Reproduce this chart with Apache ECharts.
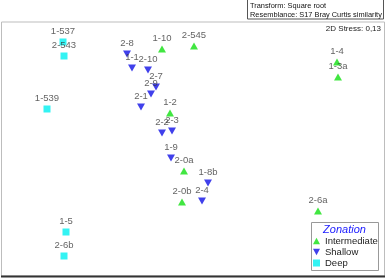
<!DOCTYPE html>
<html>
<head>
<meta charset="utf-8">
<script src="https://cdn.jsdelivr.net/npm/echarts@6/dist/echarts.min.js"></script>
<style>
html, body { margin: 0; padding: 0; background: #fff; }
#chart { width: 386px; height: 278px; }
</style>
</head>
<body>
<div id="chart"></div>
<script>
// MDS coordinates (arbitrary units)
var intermediateNames = ['1-10', '2-545', '1-4', '1-3a', '1-2', '2-0a', '2-0b', '2-6a'];
var intermediateX = [-0.31, 0.01, 1.44, 1.45, -0.23, -0.09, -0.11, 1.25];
var intermediateY = [1.00, 1.03, 0.87, 0.72, 0.36, -0.22, -0.53, -0.62];

var shallowNames = ['2-8', '1-1', '2-10', '2-7', '2-9', '2-1', '2-2', '2-3', '1-9', '1-8b', '2-4'];
var shallowX = [-0.66, -0.61, -0.45, -0.37, -0.42, -0.52, -0.31, -0.21, -0.22, 0.15, 0.09];
var shallowY = [0.95, 0.81, 0.79, 0.62, 0.55, 0.42, 0.16, 0.18, -0.09, -0.34, -0.52];

var deepNames = ['1-537', '2-543', '1-539', '1-5', '2-6b'];
var deepX = [-1.30, -1.29, -1.46, -1.27, -1.29];
var deepY = [1.07, 0.93, 0.40, -0.83, -1.07];

var upTri = 'path://M5,0L10,9L0,9Z';
var downTri = 'path://M0,0L10,0L5,9Z';

function pts(names, xs, ys) {
    var out = [];
    for (var i = 0; i < names.length; i++) {
        out.push({ name: names[i], value: [xs[i], ys[i]] });
    }
    return out;
}

var lbl = {
    show: true,
    position: 'top',
    distance: 2,
    formatter: '{b}',
    fontFamily: 'Arial, Liberation Sans, sans-serif',
    fontSize: 9.5,
    color: '#3a3a3a'
};

var myChart = echarts.init(document.getElementById('chart'));
var option = {
    animation: false,
    grid: { left: 1.5, right: 1.5, top: 22, bottom: 2, show: true, borderColor: '#bdbdbd', borderWidth: 1 },
    xAxis: { type: 'value', min: -1.915, max: 1.915, show: false },
    yAxis: { type: 'value', min: -1.27, max: 1.27, show: false },
    legend: {
        orient: 'vertical',
        left: 313,
        top: 236,
        padding: 0,
        itemWidth: 7,
        itemHeight: 7,
        itemGap: 1,
        textStyle: { fontFamily: 'Arial, Liberation Sans, sans-serif', fontSize: 9.5, color: '#222' },
        data: [
            { name: 'Intermediate', icon: upTri },
            { name: 'Shallow', icon: downTri },
            { name: 'Deep', icon: 'rect' }
        ]
    },
    graphic: [
        { type: 'rect', shape: { x: 247.5, y: -1, width: 136, height: 20 },
          style: { fill: '#fff', stroke: '#555', lineWidth: 1 } },
        { type: 'text', x: 250, y: 1,
          style: { text: 'Transform: Square root\nResemblance: S17 Bray Curtis similarity',
                   font: '7.4px Arial, Liberation Sans, sans-serif', lineHeight: 9, fill: '#111' } },
        { type: 'text', x: 381, y: 25,
          style: { text: '2D Stress: 0,13', align: 'right',
                   font: '8px Arial, Liberation Sans, sans-serif', fill: '#222' } },
        { type: 'line', shape: { x1: 1, y1: 276.5, x2: 385, y2: 276.5 },
          style: { stroke: '#333', lineWidth: 2 } },
        { type: 'rect', z: -1, shape: { x: 311.5, y: 222.5, width: 67, height: 48 },
          style: { fill: '#fff', stroke: '#999', lineWidth: 1 } },
        { type: 'text', x: 344.5, y: 224,
          style: { text: 'Zonation', align: 'center',
                   font: 'italic 11px Arial, Liberation Sans, sans-serif', fill: '#1a1aff' } }
    ],
    series: [
        {
            name: 'Intermediate', type: 'scatter', symbol: upTri, symbolSize: [8, 7],
            itemStyle: { color: '#12e012' }, label: lbl,
            data: pts(intermediateNames, intermediateX, intermediateY)
        },
        {
            name: 'Shallow', type: 'scatter', symbol: downTri, symbolSize: [8, 7],
            itemStyle: { color: '#1010e6' }, label: lbl,
            data: pts(shallowNames, shallowX, shallowY)
        },
        {
            name: 'Deep', type: 'scatter', symbol: 'rect', symbolSize: 7,
            itemStyle: { color: '#00f0f0' }, label: lbl,
            data: pts(deepNames, deepX, deepY)
        }
    ]
};
myChart.setOption(option);
</script>
</body>
</html>
